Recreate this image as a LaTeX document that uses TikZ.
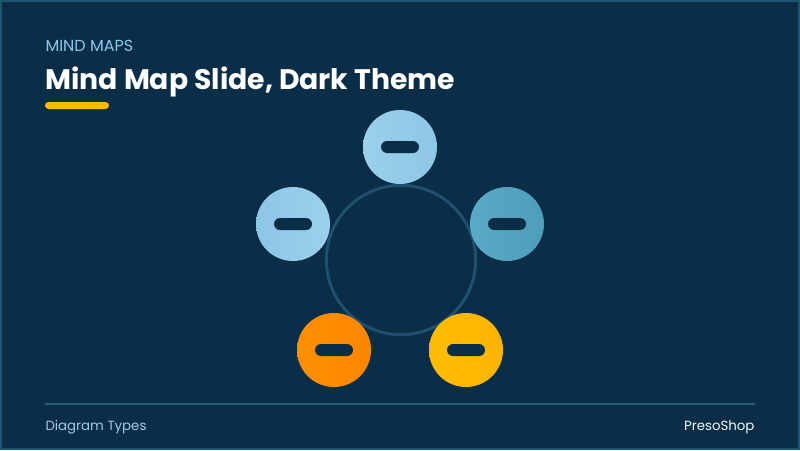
\documentclass[tikz,border=0pt]{standalone}
\usepackage{fontspec}
\setmainfont{Poppins}
\definecolor{bgnavy}{HTML}{0A2E48}
\definecolor{frameteal}{HTML}{1C5672}
\definecolor{ringblue}{HTML}{1F5070}
\definecolor{kickerblue}{HTML}{8CC8E8}
\definecolor{footblue}{HTML}{9CCDE3}
\definecolor{footline}{HTML}{2A5A74}
\definecolor{goldbar}{HTML}{FFBA00}
\definecolor{skyA}{HTML}{9CD0EB}
\definecolor{skyB}{HTML}{8CC7E5}
\definecolor{tealA}{HTML}{5AAAC5}
\definecolor{tealB}{HTML}{4E9DB9}
\definecolor{orangeA}{HTML}{FF9000}
\definecolor{orangeB}{HTML}{FF8600}
\definecolor{yellowA}{HTML}{FFBD00}
\definecolor{yellowB}{HTML}{FFB400}

\tikzset{every picture/.style={line width=0.75pt}}
\tikzset{
  bubble/.style={circle, inner sep=0pt, minimum size=55.5pt, draw=none},
  pill/.style={rectangle, rounded corners=4.5pt, fill=bgnavy, inner sep=0pt, minimum width=28.5pt, minimum height=9pt},
}

\begin{document}
\begin{tikzpicture}[x=0.75pt,y=0.75pt,yscale=-1,xscale=1]
\useasboundingbox (0,0) rectangle (800,450);

%Shape: Rectangle
\draw [draw=frameteal, fill=bgnavy, line width=1.5] (1,1) rectangle (799,449);
%Shape: Rectangle
\fill [goldbar, rounded corners=2.6pt] (45,102) rectangle (109,109);
%Straight Lines
\draw [footline, line width=1.2] (45,404) -- (755,404);

%Shape: Circle
\node [circle, draw=ringblue, line width=2.2pt, minimum size=112pt, inner sep=0pt] (hub) at (401,260) {};

%Shape: Circle
\node [bubble, left color=skyA, right color=skyB] (top) at (400,147) {};
\node [pill] (topbar) at (top) {};
%Shape: Circle
\node [bubble, left color=skyB, right color=skyA] (west) at (293,224) {};
\node [pill] (westbar) at (west) {};
%Shape: Circle
\node [bubble, left color=tealA, right color=tealB] (east) at (507,224) {};
\node [pill] (eastbar) at (east) {};
%Shape: Circle
\node [bubble, left color=orangeA, right color=orangeB] (southwest) at (334,350) {};
\node [pill] (southwestbar) at (southwest) {};
%Shape: Circle
\node [bubble, left color=yellowA, right color=yellowB] (southeast) at (466,350) {};
\node [pill] (southeastbar) at (southeast) {};

% Text Node
\draw (45,51) node [anchor=base west][inner sep=0pt] (kicker) {\fontsize{12pt}{14pt}\selectfont\color{kickerblue}MIND MAPS};
% Text Node
\draw (45,89) node [anchor=base west][inner sep=0pt] (title) {\fontsize{21.2pt}{25pt}\selectfont\bfseries\color{white}Mind Map Slide, Dark Theme};
% Text Node
\draw (45,430) node [anchor=base west][inner sep=0pt] (footleft) {\fontsize{10pt}{12pt}\selectfont\color{footblue}Diagram Types};
% Text Node
\draw (755,430) node [anchor=base east][inner sep=0pt] (footright) {\fontsize{10pt}{12pt}\selectfont\color{white!85!footblue}PresoShop};

\end{tikzpicture}
\end{document}
